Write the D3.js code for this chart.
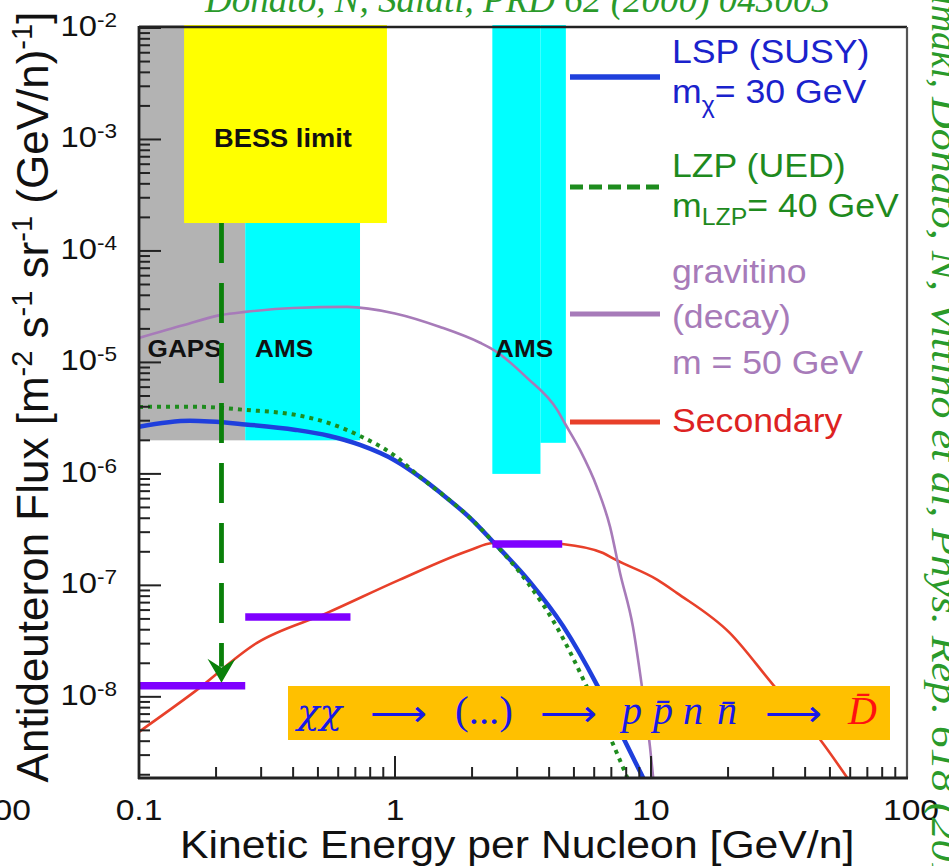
<!DOCTYPE html>
<html><head><meta charset="utf-8">
<script src="https://cdn.jsdelivr.net/npm/d3@7"></script>
<style>body{margin:0;background:#fff;} svg{display:block;}</style>
</head><body>
<svg id="chart" width="949" height="866"></svg>
<script>
// ---------------- data ----------------
const lspEnergy = [0.1, 0.158, 0.26, 0.41, 0.55, 0.73, 1.0, 1.25, 1.5, 2.0, 2.4, 3.37, 4.53, 6.15, 7.57, 9.4];
const lspFlux   = [2.64e-6, 2.99e-6, 2.78e-6, 2.48e-6, 2.2e-6, 1.82e-6, 1.32e-6, 9.4e-7, 6.8e-7, 3.87e-7, 2.5e-7, 1.07e-7, 4.33e-8, 1.28e-8, 4.9e-9, 1.8e-9];

const lzpEnergy = [0.1, 0.17, 0.26, 0.41, 0.55, 0.73, 1.0, 1.25, 1.5, 2.0, 2.4, 3.28, 4.26, 5.57, 6.8, 8.2];
const lzpFlux   = [3.99e-6, 4.0e-6, 3.75e-6, 3.38e-6, 2.86e-6, 2.19e-6, 1.45e-6, 9.4e-7, 6.8e-7, 3.87e-7, 2.5e-7, 1.075e-7, 4.34e-8, 1.28e-8, 4.75e-9, 1.73e-9];

const gravEnergy = [0.1, 0.15, 0.21, 0.26, 0.4, 0.65, 1.0, 1.5, 2.15, 2.46, 3.28, 4.3, 4.6, 5.28, 6.15, 6.92, 7.57, 8.5, 9.22, 9.91, 10.2];
const gravFlux   = [1.66e-5, 2.17e-5, 2.67e-5, 2.84e-5, 3.08e-5, 3.15e-5, 2.75e-5, 2.08e-5, 1.5e-5, 1.27e-5, 7.26e-6, 3.75e-6, 2.86e-6, 1.64e-6, 7.6e-7, 3.35e-7, 1.29e-7, 4.25e-8, 1.23e-8, 3.56e-9, 1.87e-9];

const secEnergy = [0.1, 0.163, 0.289, 0.543, 1.04, 1.97, 2.4, 3.2, 4.5, 6.5, 7.3, 10.6, 12.6, 20.3, 30, 45.9, 58.5];
const secFlux   = [4.85e-9, 1.09e-8, 3.05e-8, 5.66e-8, 1.12e-7, 2.08e-7, 2.4e-7, 2.45e-7, 2.35e-7, 1.95e-7, 1.69e-7, 1.12e-7, 8.57e-8, 3.75e-8, 1.28e-8, 4.1e-9, 1.87e-9];

// sensitivity bars
const barE0   = [0.1, 0.26, 2.4];
const barE1   = [0.26, 0.67, 4.5];
const barFlux = [1.26e-8, 5.2e-8, 2.35e-7];

// experiment regions (extend up to top of the axis)
const bandKind  = ["GAPS", "AMS", "AMS", "AMS", "BESS"];
const bandE0    = [0.1, 0.26, 2.4, 3.7, 0.15];
const bandE1    = [0.26, 0.73, 3.7, 4.65, 0.93];
const bandFloor = [2.0e-6, 2.0e-6, 1.0e-6, 1.9e-6, 1.78e-4];

// region labels
const regionLabels   = ["GAPS", "AMS", "AMS", "BESS limit"];
const regionLabelE   = [0.108, 0.284, 2.46, 0.365];
const regionLabelF   = [1.12e-5, 1.12e-5, 1.12e-5, 8.57e-4];

// BESS arrow
const arrowEnergy = 0.21;
const arrowFromFlux = 1.78e-4;
const arrowToFlux = 1.34e-8;

// axes
const xDomain = [0.1, 100];
const yDomain = [1.87e-9, 1e-2];
const xTickValues = [0.1, 1, 10, 100];
const xTickLabels = ["0.1", "1", "10", "100"];
const yTickValues = [1e-2, 1e-3, 1e-4, 1e-5, 1e-6, 1e-7, 1e-8];
const yTickExps   = ["-2", "-3", "-4", "-5", "-6", "-7", "-8"];

// ---------------- drawing ----------------
const svg = d3.select("#chart");
const L = 139, R = 907, T = 28, B = 778;
const x = d3.scaleLog().domain(xDomain).range([L, R]);
const y = d3.scaleLog().domain(yDomain).range([B, T]);
const SANS = "'Liberation Sans', Arial, Helvetica, sans-serif";
const SERIF = "'Liberation Serif', 'Times New Roman', serif";

svg.append("defs").append("clipPath").attr("id", "plotclip")
  .append("rect").attr("x", L).attr("y", T - 3).attr("width", R - L).attr("height", B - T + 3);

const plot = svg.append("g").attr("clip-path", "url(#plotclip)");

const bandColor = {GAPS: "#b3b3b3", AMS: "#00ffff", BESS: "#ffff00"};
const bands = bandKind.map((k, i) => ({k, e0: bandE0[i], e1: bandE1[i], f: bandFloor[i]}));
plot.selectAll("rect.band").data(bands).join("rect").attr("class", "band")
  .attr("x", d => x(d.e0)).attr("width", d => x(d.e1) - x(d.e0))
  .attr("y", T - 3).attr("height", d => y(d.f) - T + 3)
  .attr("fill", d => bandColor[d.k]);

function st(parent, px, py, sx) {
  return parent.append("text").attr("transform", `translate(${px},${py}) scale(${sx},1)`);
}

regionLabels.forEach((t, i) => {
  st(svg, x(regionLabelE[i]), y(regionLabelF[i]), 1.09)
    .attr("text-anchor", t === "BESS limit" ? "middle" : "start")
    .attr("font-family", SANS).attr("font-weight", "bold")
    .attr("font-size", t === "BESS limit" ? 25 : 24).attr("fill", "#111").text(t);
});

const line = d3.line().x(d => x(d[0])).y(d => y(d[1])).curve(d3.curveMonotoneX);
const zip = (a, b) => a.map((v, i) => [v, b[i]]);

plot.append("path").attr("d", line(zip(secEnergy, secFlux)))
  .attr("fill", "none").attr("stroke", "#e8402a").attr("stroke-width", 2.6);
plot.append("path").attr("d", line(zip(gravEnergy, gravFlux)))
  .attr("fill", "none").attr("stroke", "#a77bb9").attr("stroke-width", 2.6);
plot.append("path").attr("d", line(zip(lspEnergy, lspFlux)))
  .attr("fill", "none").attr("stroke", "#1f3fdc").attr("stroke-width", 4.5);
plot.append("path").attr("d", line(zip(lzpEnergy, lzpFlux)))
  .attr("fill", "none").attr("stroke", "#1e8c1e").attr("stroke-width", 4)
  .attr("stroke-dasharray", "4,5");

// sensitivity bars
plot.selectAll("line.bar").data(barFlux.map((f, i) => ({f, e0: barE0[i], e1: barE1[i]})))
  .join("line").attr("class", "bar")
  .attr("x1", d => x(d.e0)).attr("x2", d => x(d.e1))
  .attr("y1", d => y(d.f)).attr("y2", d => y(d.f))
  .attr("stroke", "#7f00ff").attr("stroke-width", 7.5);

// BESS arrow
const ax = x(arrowEnergy), ay0 = y(arrowFromFlux), ay1 = y(arrowToFlux);
svg.append("line").attr("x1", ax).attr("x2", ax).attr("y1", ay0).attr("y2", ay1 - 16)
  .attr("stroke", "#0a800a").attr("stroke-width", 4.8).attr("stroke-dasharray", "40,20");
svg.append("path")
  .attr("d", `M${ax},${ay1} L${ax - 14},${ay1 - 24} L${ax},${ay1 - 15} L${ax + 14},${ay1 - 24} Z`)
  .attr("fill", "#0a800a");

// process box
const box = svg.append("g");
box.append("rect").attr("x", 288).attr("y", 686).attr("width", 602).attr("height", 54).attr("fill", "#ffc000");
const blueT = "#1818e8";
const bY = 724;
function bt(px, s, opts = {}) {
  const t = box.append("text").attr("x", px).attr("y", opts.y || bY)
    .attr("font-family", opts.font || SERIF).attr("font-size", opts.size || 40)
    .attr("font-style", opts.upright ? "normal" : "italic")
    .attr("fill", opts.color || blueT).text(s);
  if (opts.anchor) t.attr("text-anchor", opts.anchor);
  if (opts.len) t.attr("textLength", opts.len).attr("lengthAdjust", "spacingAndGlyphs");
  return t;
}
bt(297, "χχ", {len: 45, font: "'DejaVu Serif', serif", size: 36});
const arrowOpts = {font: "'DejaVu Sans', sans-serif", size: 36, upright: true, len: 57, y: 726};
bt(370, "⟶", arrowOpts);
bt(455, "(...)", {upright: true, len: 58});
bt(540, "⟶", arrowOpts);
bt(622, "p");
bt(653, "p\u0304");
bt(683, "n");
bt(717, "n\u0304");
bt(765, "⟶", arrowOpts);
bt(848, "D\u0304", {color: "#ff1010"});

// axes frame
const axisCol = "#222";
svg.append("line").attr("x1", L).attr("x2", R).attr("y1", T - 1).attr("y2", T - 1).attr("stroke", axisCol).attr("stroke-width", 2.5);
svg.append("line").attr("x1", R).attr("x2", R).attr("y1", T - 1).attr("y2", B).attr("stroke", "#555").attr("stroke-width", 2.2);

// left axis
const yAxis = svg.append("g");
const yMinor = [];
for (let k = -9; k <= -3; k++) for (let m = 2; m <= 9; m++) {
  const v = m * Math.pow(10, k);
  if (v >= yDomain[0] && v <= yDomain[1]) yMinor.push(v);
}
yAxis.selectAll("line.ymin").data(yMinor).join("line").attr("class", "ymin")
  .attr("x1", L).attr("x2", L + 11).attr("y1", d => y(d)).attr("y2", d => y(d))
  .attr("stroke", axisCol).attr("stroke-width", 2);
yAxis.selectAll("line.ymaj").data(yTickValues).join("line").attr("class", "ymaj")
  .attr("x1", L).attr("x2", L + 22).attr("y1", d => y(d)).attr("y2", d => y(d))
  .attr("stroke", axisCol).attr("stroke-width", 2);
yAxis.append("line").attr("x1", L).attr("x2", L).attr("y1", T - 2).attr("y2", B + 1)
  .attr("stroke", axisCol).attr("stroke-width", 2.8);
yTickValues.forEach((v, i) => {
  const t = st(svg, 117, y(v) + 8, 1.13).attr("text-anchor", "end")
    .attr("font-family", SANS).attr("font-size", 29).attr("fill", "#111");
  t.append("tspan").text("10");
  t.append("tspan").attr("font-size", 20).attr("dy", -9).text(yTickExps[i]);
});

// bottom axis
const xMinor = [];
for (let k = -1; k <= 1; k++) for (let m = 2; m <= 9; m++) xMinor.push(m * Math.pow(10, k));
svg.selectAll("line.xmin").data(xMinor).join("line").attr("class", "xmin")
  .attr("x1", d => x(d)).attr("x2", d => x(d)).attr("y1", B).attr("y2", B - 11)
  .attr("stroke", axisCol).attr("stroke-width", 2);
svg.selectAll("line.xmaj").data(xTickValues.slice(1, 3)).join("line").attr("class", "xmaj")
  .attr("x1", d => x(d)).attr("x2", d => x(d)).attr("y1", B).attr("y2", B - 22)
  .attr("stroke", axisCol).attr("stroke-width", 2);
svg.append("line").attr("x1", L - 1).attr("x2", R + 1).attr("y1", B).attr("y2", B)
  .attr("stroke", axisCol).attr("stroke-width", 2.8);
xTickValues.forEach((v, i) => {
  st(svg, x(v) + (i === 3 ? 4 : 0), 820, 1.12).attr("text-anchor", "middle")
    .attr("font-family", SANS).attr("font-size", 30).attr("fill", "#111").text(xTickLabels[i]);
});
// neighbouring panel's cut-off label
st(svg, 31, 820, 1.12).attr("text-anchor", "end").attr("font-family", SANS)
  .attr("font-size", 30).attr("fill", "#111").text("100");

// axis titles
st(svg, 180, 858, 1.11).attr("font-family", SANS).attr("font-size", 38.5).attr("fill", "#111")
  .text("Kinetic Energy per Nucleon [GeV/n]");
const yt = svg.append("text").attr("transform", "translate(48,397) rotate(-90)")
  .attr("text-anchor", "middle").attr("font-family", SANS).attr("font-size", 44).attr("fill", "#111");
yt.append("tspan").text("Antideuteron Flux [m");
yt.append("tspan").attr("font-size", 29).attr("dy", -16).text("-2");
yt.append("tspan").attr("dy", 16).text(" s");
yt.append("tspan").attr("font-size", 29).attr("dy", -16).text("-1");
yt.append("tspan").attr("dy", 16).text(" sr");
yt.append("tspan").attr("font-size", 29).attr("dy", -16).text("-1");
yt.append("tspan").attr("dy", 16).text(" (GeV/n)");
yt.append("tspan").attr("font-size", 29).attr("dy", -16).text("-1");
yt.append("tspan").attr("dy", 16).text("]");

// legend
const lg = svg.append("g");
const lgX0 = 570, lgX1 = 660, lgTX = 672, lgSX = 1.08, lgFS = 33;
function lgLine(yy, col, w, dash) {
  const l = lg.append("line").attr("x1", lgX0).attr("x2", lgX1).attr("y1", yy).attr("y2", yy)
    .attr("stroke", col).attr("stroke-width", w);
  if (dash) l.attr("stroke-dasharray", dash);
}
function lgText(yy, col) {
  return st(lg, lgTX, yy, lgSX).attr("font-family", SANS).attr("font-size", lgFS).attr("fill", col);
}
lgLine(77, "#1f3fdc", 5.5);
lgText(63, "#1a22cc").text("LSP (SUSY)");
let t = lgText(103, "#1a22cc");
t.append("tspan").text("m");
t.append("tspan").attr("font-size", 23).attr("dy", 10).text("χ");
t.append("tspan").attr("dy", -10).text("= 30 GeV");

lgLine(187, "#1e8c1e", 5, "13,6");
lgText(177, "#1e8a1e").text("LZP (UED)");
t = lgText(217, "#1e8a1e");
t.append("tspan").text("m");
t.append("tspan").attr("font-size", 23).attr("dy", 8).text("LZP");
t.append("tspan").attr("dy", -8).text("= 40 GeV");

lgLine(314, "#a77bb9", 5);
lgText(283, "#a77bb9").text("gravitino");
lgText(328, "#a77bb9").text("(decay)");
lgText(374, "#a77bb9").text("m = 50 GeV");

lgLine(422, "#e8402a", 5);
lgText(432, "#dd2222").text("Secondary");

// reference annotations (partly cut off by the picture edge)
svg.append("text").attr("x", 205).attr("y", 12).attr("font-family", SERIF).attr("font-style", "italic")
  .attr("font-size", 38).attr("fill", "#2a9a2a").attr("textLength", 625).attr("lengthAdjust", "spacingAndGlyphs")
  .text("Donato, N, Salati, PRD 62 (2000) 043003");
svg.append("text").attr("transform", "translate(932,88) rotate(90)").attr("text-anchor", "end")
  .attr("font-family", SERIF).attr("font-style", "italic").attr("font-size", 38).attr("fill", "#2a9a2a")
  .text("Aramaki,");
svg.append("text").attr("transform", "translate(932,97) rotate(90)")
  .attr("font-family", SERIF).attr("font-style", "italic").attr("font-size", 38).attr("fill", "#2a9a2a")
  .attr("textLength", 823).attr("lengthAdjust", "spacingAndGlyphs")
  .text("Donato, N, Vittino et al, Phys. Rep. 618 (2016)");
</script>
</body></html>
